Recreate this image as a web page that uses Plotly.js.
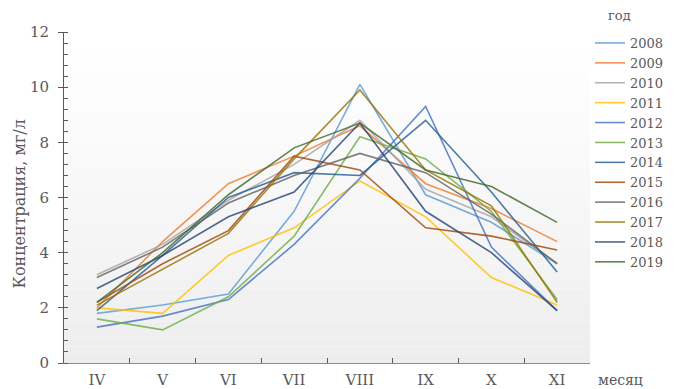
<!DOCTYPE html>
<html>
<head>
<meta charset="utf-8">
<script src="https://cdn.plot.ly/plotly-3.0.1.min.js"></script>
<style>html,body{margin:0;padding:0;background:#fff;}#chart{width:676px;height:389px;}</style>
</head>
<body>
<div id="chart"></div>
<script>
const months = ['IV','V','VI','VII','VIII','IX','X','XI'];
const years = ['2008','2009','2010','2011','2012','2013','2014','2015','2016','2017','2018','2019'];
const colors = ['#5B9BD5','#ED7D31','#A5A5A5','#FFC000','#4472C4','#70AD47','#255E91','#9E480E','#636363','#997300','#264478','#43682B'];

const v2008 = [1.8, 2.1, 2.5, 5.5, 10.1, 6.1, 5.1, 3.6];
const v2009 = [2.0, 4.4, 6.5, 7.5, 8.6, 6.5, 5.6, 4.4];
const v2010 = [3.2, 4.3, 5.9, 7.2, 8.8, 6.3, 5.3, 3.6];
const v2011 = [2.0, 1.8, 3.9, 4.9, 6.6, 5.3, 3.1, 2.1];
const v2012 = [1.3, 1.7, 2.3, 4.3, 6.7, 9.3, 4.2, 1.9];
const v2013 = [1.6, 1.2, 2.4, 4.6, 8.2, 7.4, 5.5, 2.3];
const v2014 = [1.9, 3.9, 6.0, 6.9, 6.8, 8.8, 6.2, 3.3];
const v2015 = [2.2, 3.6, 4.8, 7.5, 7.0, 4.9, 4.6, 4.1];
const v2016 = [3.1, 4.2, 5.8, 6.8, 7.6, 6.9, 5.4, 3.6];
const v2017 = [2.1, 3.4, 4.7, 7.4, 9.9, 7.0, 5.7, 2.2];
const v2018 = [2.7, 3.9, 5.3, 6.2, 8.7, 5.5, 4.0, 1.9];
const v2019 = [2.2, 4.0, 6.1, 7.8, 8.7, 7.0, 6.4, 5.1];
const series = [v2008,v2009,v2010,v2011,v2012,v2013,v2014,v2015,v2016,v2017,v2018,v2019];

const FONT = 'DejaVu Serif, Liberation Serif, serif';
const TXT = '#595959';

const traces = series.map((vals, i) => ({
  type: 'scatter', mode: 'lines', x: months, y: vals, name: years[i],
  line: {color: colors[i], width: 1.6}, opacity: 0.82
}));

// background gradient (plot area), white at top to light grey at bottom
const shapes = [];
const N = 40;
for (let k = 0; k < N; k++) {
  const t = (k + 0.5) / N; // 0 bottom -> 1 top
  const g = Math.round(255 - 18 * Math.pow(1 - t, 1.2));
  shapes.push({type: 'rect', xref: 'paper', yref: 'paper', x0: 0, x1: 1, y0: k / N, y1: (k + 1) / N,
    fillcolor: `rgb(${g},${g},${g})`, line: {width: 0}, layer: 'below'});
}

const layout = {
  width: 676, height: 389,
  margin: {l: 64, r: 70, t: 32, b: 26},
  paper_bgcolor: '#ffffff', plot_bgcolor: 'rgba(0,0,0,0)',
  showlegend: true,
  font: {family: FONT, color: TXT},
  xaxis: {
    type: 'category', range: [-0.5, 7.5], showgrid: false, zeroline: false,
    showline: true, linecolor: '#8c8c8c', linewidth: 1,
    ticks: 'inside', tickson: 'boundaries', ticklen: 5, tickcolor: '#595959',
    ticklabelstandoff: 3,
    tickfont: {family: FONT, size: 15, color: TXT}
  },
  yaxis: {
    range: [0, 12], dtick: 2, showgrid: false, zeroline: false,
    showline: true, linecolor: '#595959', linewidth: 1,
    ticks: 'outside', ticklen: 5, tickcolor: '#595959',
    ticklabelstandoff: 6,
    minor: {ticks: 'inside', dtick: 0.4, ticklen: 4, tickcolor: '#595959', showgrid: false},
    tickfont: {family: FONT, size: 15, color: TXT}
  },
  legend: {
    xref: 'container', yref: 'container', x: 590 / 676, y: 1 - 28 / 389,
    xanchor: 'left', yanchor: 'top', itemwidth: 30, tracegroupgap: 0, maxheight: 380,
    bgcolor: 'rgba(0,0,0,0)', font: {family: FONT, size: 13, color: TXT}
  },
  shapes: shapes,
  annotations: [
    {xref: 'paper', yref: 'paper', x: -0.085, y: 0.48, xanchor: 'center', yanchor: 'middle',
     text: 'Концентрация, мг/л', textangle: -90, showarrow: false,
     font: {family: FONT, size: 16, color: TXT}},
    {xref: 'paper', yref: 'paper', x: 1.012, y: 0, xanchor: 'left', yanchor: 'middle', yshift: -17,
     text: 'месяц', showarrow: false, font: {family: FONT, size: 14, color: TXT}},
    {xref: 'paper', yref: 'paper', x: (636 - 64) / 542, y: (363 - 16) / 331, xanchor: 'center', yanchor: 'middle',
     text: 'год', showarrow: false, font: {family: FONT, size: 13, color: TXT}}
  ]
};

Plotly.newPlot('chart', traces, layout, {displayModeBar: false, staticPlot: true});
</script>
</body>
</html>
